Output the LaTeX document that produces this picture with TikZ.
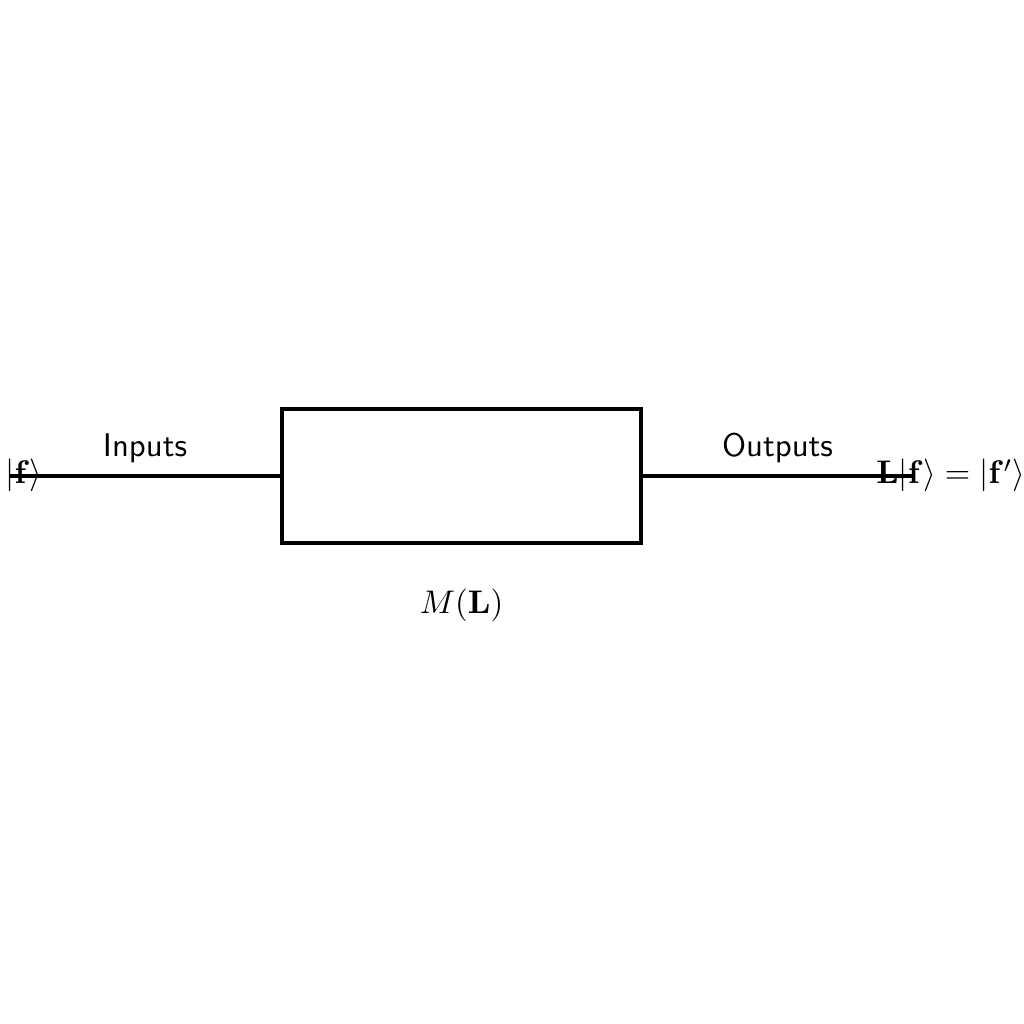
\documentclass[tikz,border=0pt]{standalone}
\usepackage{amsmath,amssymb}
\usetikzlibrary{positioning}
\tikzset{
  block style/.style={rectangle, draw, line width=1.2pt, minimum width=3.857cm, minimum height=1.439cm},
  wire style/.style={line width=1.2pt},
  lbl style/.style={font=\sffamily}
}
\begin{document}
\begin{tikzpicture}[node distance=0.35cm]
\useasboundingbox (0,0) rectangle (11,11);
\node[block style] (sys) at (4.958,5.89) {};
\node[below=of sys] (sysname) {$M(\mathbf{L})$};
\coordinate (inL) at (0.107,5.89);
\coordinate (outR) at (9.797,5.89);
\node (fin) at (0.258,5.89) {$|\mathbf{f}\rangle$};
\node (fout) at (10.215,5.89) {$\mathbf{L}|\mathbf{f}\rangle = |\mathbf{f}'\rangle$};
\draw[wire style] (inL) -- (sys.west) node[midway, above, lbl style]{Inputs};
\draw[wire style] (sys.east) -- (outR) node[midway, above, lbl style]{Outputs};
\end{tikzpicture}
\end{document}
